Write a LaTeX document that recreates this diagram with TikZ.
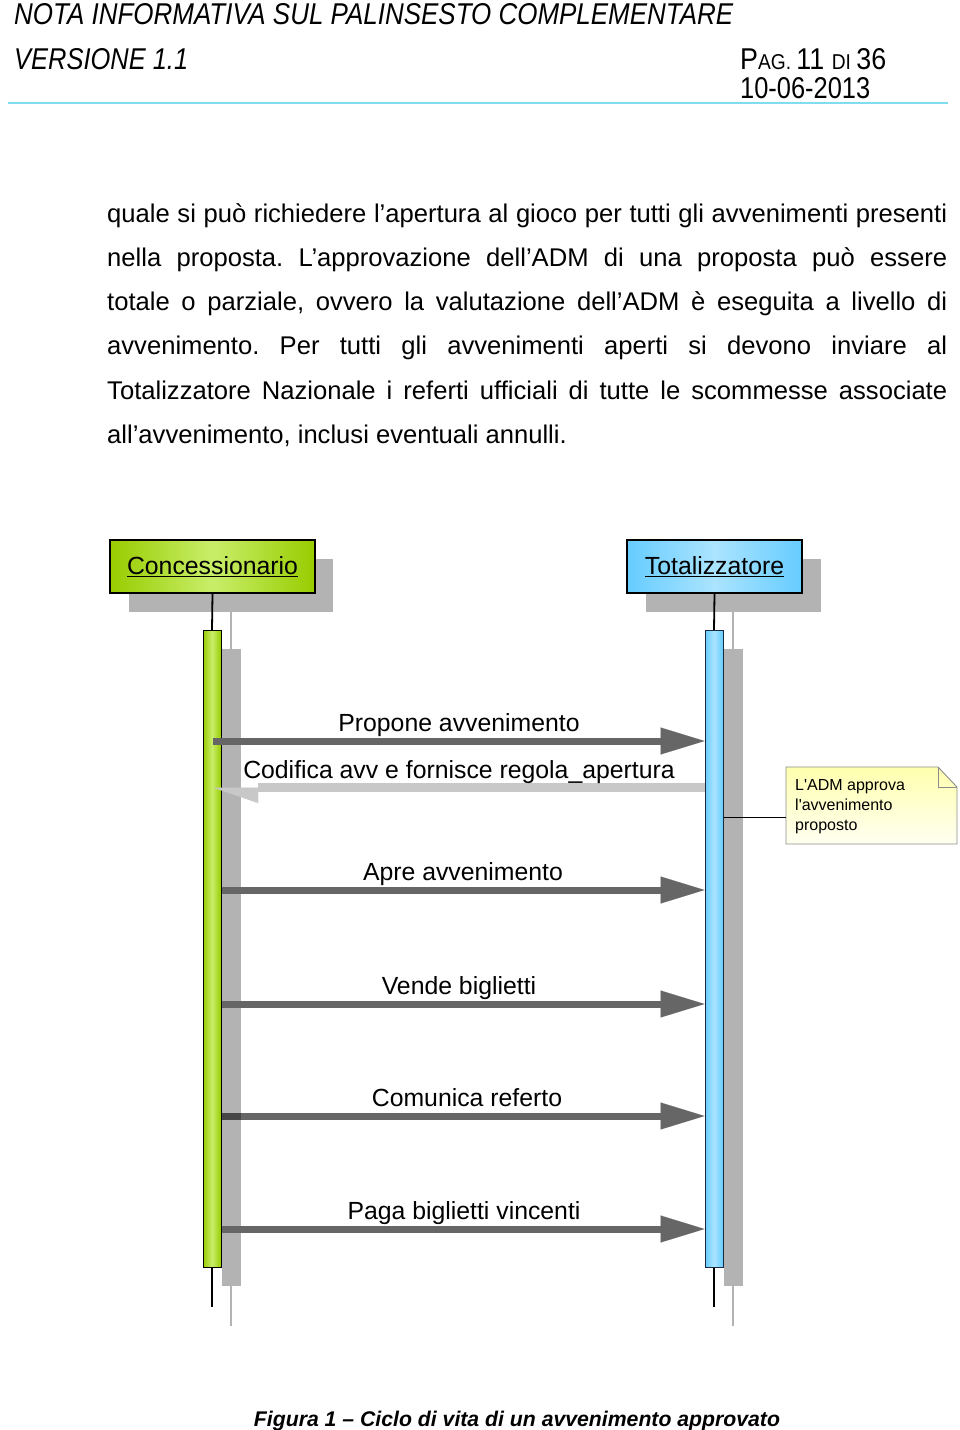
\documentclass[tikz,border=0pt]{standalone}
\usepackage{fontspec}
\setmainfont{Liberation Sans}
\usetikzlibrary{arrows.meta}
\definecolor{hdrline}{HTML}{7FDDEE}
\definecolor{cgreen}{HTML}{99CC00}
\definecolor{cgreenl}{HTML}{C8EE6A}
\definecolor{tblue}{HTML}{66CCFF}
\definecolor{tbluel}{HTML}{ABE4FF}
\definecolor{tborder}{HTML}{1A2A40}
\definecolor{shad}{HTML}{B3B3B3}
\definecolor{arrdark}{HTML}{666666}
\definecolor{arrlight}{HTML}{C8C8C8}
\definecolor{notey}{HTML}{FFFFAE}
\definecolor{notew}{HTML}{FFFFF2}
\definecolor{notebd}{HTML}{8C8C8C}
\frenchspacing
\begin{document}
\begin{tikzpicture}[x=1pt,y=-1pt,
  hdr/.style={anchor=base west, inner sep=0pt},
  bodyline/.style={anchor=base west, inner sep=0pt, font=\fontsize{25.6}{30}\selectfont},
  actorbox/.style={draw=black, line width=1.3pt, minimum height=53pt, inner sep=0pt,
     font=\fontsize{24.8}{28}\selectfont},
  greenfill/.style={left color=cgreen, right color=cgreen, middle color=cgreenl},
  bluefill/.style={left color=tblue, right color=tblue, middle color=tbluel},
  lifebar/.style={minimum width=18pt, minimum height=637pt, inner sep=0pt, line width=1pt},
  lifeline/.style={black, line width=1.8pt},
  shadowline/.style={shad, line width=1.2pt},
  msg/.style={arrdark, line width=7pt, -{Triangle[length=44pt,width=27pt,line width=0.01pt]}},
  retmsg/.style={arrlight, line width=8.5pt, -{Triangle[length=45pt,width=31pt,harpoon,line width=0.01pt]}},
  msglabel/.style={anchor=base, inner sep=0pt, font=\fontsize{24.8}{28}\selectfont},
  notetextstyle/.style={anchor=north west, align=left, inner sep=0pt, font=\fontsize{16}{20}\selectfont}
]
\useasboundingbox[fill=white] (0,0) rectangle (960,1430);

% ---------- header ----------
\node[hdr] (h1) at (14,24) {\resizebox{719pt}{21pt}{\itshape NOTA INFORMATIVA SUL PALINSESTO COMPLEMENTARE}};
\node[hdr] (h2) at (14,69) {\resizebox{174pt}{21pt}{\itshape VERSIONE 1.1}};
\node[hdr] (h3) at (740,69) {\resizebox{146pt}{21pt}{\fontsize{28}{30}\selectfont P\fontsize{20}{30}\selectfont AG. \fontsize{28}{30}\selectfont 11 \fontsize{20}{30}\selectfont DI \fontsize{28}{30}\selectfont 36}};
\node[hdr] (h4) at (740,98) {\resizebox{130pt}{21pt}{\fontsize{28}{30}\selectfont 10-06-2013}};
\coordinate (hl1) at (8,103);
\coordinate (hl2) at (948,103);
\draw[hdrline, line width=1.8pt] (hl1) -- (hl2);

% ---------- body text ----------
\node[bodyline] (b1) at (107,222) {\makebox[840pt][s]{quale si può richiedere l’apertura al gioco per tutti gli avvenimenti presenti}};
\node[bodyline] (b2) at (107,266) {\makebox[840pt][s]{nella proposta. L’approvazione dell’ADM di una proposta può essere}};
\node[bodyline] (b3) at (107,310) {\makebox[840pt][s]{totale o parziale, ovvero la valutazione dell’ADM è eseguita a livello di}};
\node[bodyline] (b4) at (107,354) {\makebox[840pt][s]{avvenimento. Per tutti gli avvenimenti aperti si devono inviare al}};
\node[bodyline] (b5) at (107,399) {\makebox[840pt][s]{Totalizzatore Nazionale i referti ufficiali di tutte le scommesse associate}};
\node[bodyline] (b6) at (107,443) {all’avvenimento, inclusi eventuali annulli.};

% ---------- shadows ----------
\fill[shad] (129,559) rectangle (333,612);
\fill[shad] (646,559) rectangle (821,612);
\draw[shadowline] (231,612) -- (231,649);
\draw[shadowline] (733,612) -- (733,649);
\fill[shad] (222,649) rectangle (241,1286);
\fill[shad] (724,649) rectangle (743,1286);
\draw[shadowline] (231,1286) -- (231,1326);
\draw[shadowline] (733,1286) -- (733,1326);

% ---------- actors ----------
\node[actorbox, greenfill, minimum width=205pt] (conc) at (212.5,566.5) {\underline{Concessionario}};
\node[actorbox, bluefill, minimum width=175pt] (tot) at (714.5,566.5) {\underline{Totalizzatore}};

% ---------- activation bars ----------
\draw[lifeline] (conc.south) -- (212,630);
\draw[lifeline] (tot.south) -- (714,630);
\node[lifebar, draw=black, greenfill] (cbar) at (212,948.5) {};
\node[lifebar, draw=tborder, bluefill] (tbar) at (714,948.5) {};
\coordinate (cend) at (212,1307);
\coordinate (tend) at (714,1307);
\draw[lifeline] (cbar.south) -- (cend);
\draw[lifeline] (tbar.south) -- (tend);

% ---------- messages ----------
\coordinate (m1s) at (213,741);  \coordinate (m1e) at (tbar.west |- m1s);
\coordinate (m2s) at (tbar.west |- 0,787.5); \coordinate (m2e) at (213,787.5);
\coordinate (m3s) at (cbar.east |- 0,890); \coordinate (m3e) at (tbar.west |- m3s);
\coordinate (m4s) at (cbar.east |- 0,1004); \coordinate (m4e) at (tbar.west |- m4s);
\coordinate (m5s) at (cbar.east |- 0,1116); \coordinate (m5e) at (tbar.west |- m5s);
\coordinate (m6s) at (cbar.east |- 0,1229); \coordinate (m6e) at (tbar.west |- m6s);

\draw[msg] (m1s) -- (m1e);
\draw[retmsg] (m2s) -- (m2e);
\draw[msg] (m3s) -- (m3e);
\draw[msg] (m4s) -- (m4e);
\draw[msg] (m5s) -- (m5e);
\fill[black!72] (222,1112.5) rectangle (241,1119.5);
\draw[msg] (m6s) -- (m6e);

\node[msglabel] (l1) at (459,731) {Propone avvenimento};
\node[msglabel] (l2) at (459,778) {Codifica avv e fornisce regola\_apertura};
\node[msglabel] (l3) at (463,880) {Apre avvenimento};
\node[msglabel] (l4) at (459,994) {Vende biglietti};
\node[msglabel] (l5) at (467,1106) {Comunica referto};
\node[msglabel] (l6) at (464,1219) {Paga biglietti vincenti};

% ---------- note ----------
\path[draw=notebd, line width=0.9pt, top color=notey, bottom color=notew]
  (786,767) -- (938,767) -- (957,787) -- (957,844) -- (786,844) -- cycle;
\draw[notebd, line width=0.9pt] (938,767) -- (938,787) -- (957,787);
\node[notetextstyle] (note) at (795,779) {L\textquotesingle ADM approva\\l\textquotesingle avvenimento\\proposto};
\coordinate (nconn) at (786,817);
\draw[black, line width=0.9pt] (tbar.east |- nconn) -- (nconn);

% ---------- caption ----------
\node[anchor=base, inner sep=0pt, font=\bfseries\itshape\fontsize{21}{24}\selectfont] (cap) at (517,1426)
  {\resizebox{526pt}{!}{Figura 1 – Ciclo di vita di un avvenimento approvato}};
\end{tikzpicture}
\end{document}
